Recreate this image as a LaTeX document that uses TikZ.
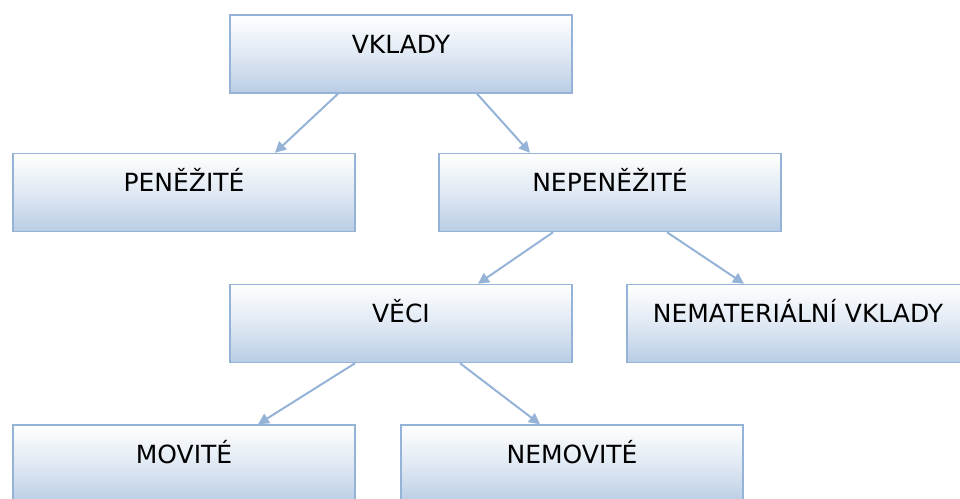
\documentclass[tikz,border=0pt]{standalone}
\usepackage{fontspec}
\setmainfont{DejaVu Sans}
\usepackage{tikz}
\usetikzlibrary{arrows.meta,positioning}
\definecolor{BoxLine}{HTML}{95B3D7}
\definecolor{BoxFoot}{HTML}{B9CDE5}
\definecolor{ArrowLine}{HTML}{95B3D7}

\begin{document}
\begin{tikzpicture}[x=1pt,y=-1pt,
  catbox/.style={draw=BoxLine,line width=1.5pt,top color=white,bottom color=BoxFoot,
    middle color=BoxFoot!45,
    minimum width=342pt,inner sep=0pt,text height=38pt,text depth=40pt,
    font=\fontsize{25}{28}\selectfont},
  link/.style={draw=ArrowLine,line width=2pt,-{Triangle[length=11pt,width=11pt]}}]
\path[use as bounding box] (0,0) rectangle (960,498);
\clip (0,0) rectangle (960,498);

% levels of the tree
\node[catbox] (vklady) at (401,54) {VKLADY};
\node[catbox] (penezite) at (184,192.5) {PENĚŽITÉ};
\node[catbox] (nepenezite) at (610,192.5) {NEPENĚŽITÉ};
\node[catbox] (veci) at (401,323.5) {VĚCI};
\node[catbox] (nematerialni) at (798,323.5) {NEMATERIÁLNÍ VKLADY};
\node[catbox] (movite) at (184,464) {MOVITÉ};
\node[catbox] (nemovite) at (572,464) {NEMOVITÉ};

% connectors
\draw[link] ([xshift=-63pt]vklady.south) -- ([xshift=91pt]penezite.north);
\draw[link] ([xshift=76pt]vklady.south) -- ([xshift=-80pt]nepenezite.north);
\draw[link] ([xshift=-57pt]nepenezite.south) -- ([xshift=77pt]veci.north);
\draw[link] ([xshift=57pt]nepenezite.south) -- ([xshift=-54pt]nematerialni.north);
\draw[link] ([xshift=-46pt]veci.south) -- ([xshift=74pt]movite.north);
\draw[link] ([xshift=59pt]veci.south) -- ([xshift=-32pt]nemovite.north);
\end{tikzpicture}
\end{document}
